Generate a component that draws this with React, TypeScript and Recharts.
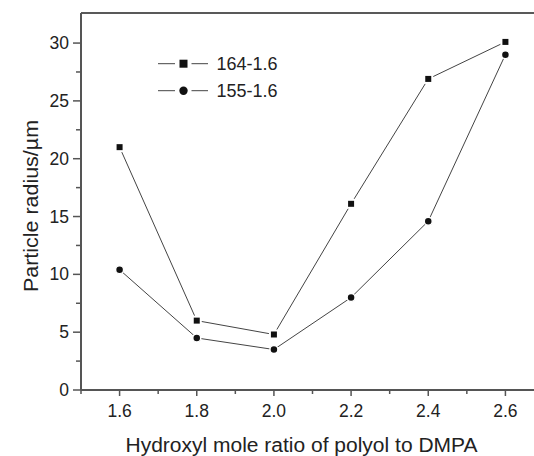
import React from "react";
import { Line, LineChart, ReferenceLine, XAxis, YAxis } from "recharts";

const ratios = [1.6, 1.8, 2.0, 2.2, 2.4, 2.6];
const radius164 = [21.0, 6.0, 4.8, 16.1, 26.9, 30.1];
const radius155 = [10.4, 4.5, 3.5, 8.0, 14.6, 29.0];
const xTicks = [1.5, 1.6, 1.7, 1.8, 1.9, 2.0, 2.1, 2.2, 2.3, 2.4, 2.5, 2.6, 2.7];
const yTicks = [0, 2.5, 5, 7.5, 10, 12.5, 15, 17.5, 20, 22.5, 25, 27.5, 30];
const seriesNames = ["164-1.6", "155-1.6"];

const data = ratios.map((r, i) => ({ ratio: r, a: radius164[i], b: radius155[i] }));

const FONT = "'Liberation Sans', Arial, Helvetica, sans-serif";
const AXIS = "#555";

function XTick(props: any) {
  const { x, y, payload } = props;
  const v = payload.value as number;
  const major = Math.round(v * 10) % 2 === 0;
  return (
    <g>
      <line x1={x} x2={x} y1={y} y2={y + (major ? 6 : 4)} stroke={AXIS} strokeWidth={1.5} />
      {major && (
        <text x={x} y={y + 27} textAnchor="middle" fontSize={17.5} fill="#222" fontFamily={FONT}>
          {v.toFixed(1)}
        </text>
      )}
    </g>
  );
}

function YTick(props: any) {
  const { x, y, payload } = props;
  const v = payload.value as number;
  const major = v % 5 === 0;
  return (
    <g>
      <line x1={x} x2={x - (major ? 8 : 5)} y1={y} y2={y} stroke={AXIS} strokeWidth={1.5} />
      {major && (
        <text x={x - 12} y={y + 6} textAnchor="end" fontSize={17.5} fill="#222" fontFamily={FONT}>
          {v}
        </text>
      )}
    </g>
  );
}

function SquareDot(props: any) {
  const { cx, cy } = props;
  if (cx == null || cy == null) return null;
  return <rect x={cx - 4} y={cy - 4} width={8} height={8} fill="#111" stroke="#fff" strokeWidth={2} />;
}

function CircleDot(props: any) {
  const { cx, cy } = props;
  if (cx == null || cy == null) return null;
  return <circle cx={cx} cy={cy} r={4} fill="#111" stroke="#fff" strokeWidth={1.5} />;
}

function LegendBox() {
  return (
    <svg width={150} height={50} style={{ position: "absolute", left: 150, top: 50 }}>
      {seriesNames.map((name, i) => {
        const cy = 13.7 + i * 27;
        return (
          <g key={name}>
            <line x1={8} x2={25} y1={cy} y2={cy} stroke="#444" strokeWidth={1} />
            <line x1={41.5} x2={58} y1={cy} y2={cy} stroke="#444" strokeWidth={1} />
            {i === 0 ? (
              <rect x={29.5} y={cy - 4} width={8} height={8} fill="#111" />
            ) : (
              <circle cx={33.5} cy={cy} r={4.2} fill="#111" />
            )}
            <text x={66.5} y={cy + 6.5} fontSize={18} fill="#222" fontFamily={FONT}>
              {name}
            </text>
          </g>
        );
      })}
    </svg>
  );
}

export default function App() {
  return (
    <div style={{ position: "absolute", left: 0, top: 0, width: 534, height: 456, overflow: "hidden", background: "#fff" }}>
      <LineChart width={544} height={456} data={data} margin={{ top: 13, right: 0, bottom: 0, left: 0 }}>
        <XAxis
          dataKey="ratio"
          type="number"
          domain={[1.5, 2.7]}
          ticks={xTicks}
          interval={0}
          tickSize={0}
          tickMargin={0}
          tickLine={false}
          tick={<XTick />}
          height={66}
          stroke={AXIS}
          strokeWidth={2}
          label={() => (
            <text x={301.5} y={452} textAnchor="middle" fontSize={20} fill="#222" fontFamily={FONT} textLength={352} lengthAdjust="spacingAndGlyphs">
              Hydroxyl mole ratio of polyol to DMPA
            </text>
          )}
        />
        <YAxis
          type="number"
          domain={[0, 32.6]}
          ticks={yTicks}
          interval={0}
          tickSize={0}
          tickMargin={0}
          tickLine={false}
          tick={<YTick />}
          width={81}
          stroke={AXIS}
          strokeWidth={2}
          label={() => (
            <text x={38} y={206} transform="rotate(-90 38 206)" textAnchor="middle" fontSize={21} fill="#222" fontFamily={FONT} textLength={172} lengthAdjust="spacingAndGlyphs">
              Particle radius/µm
            </text>
          )}
        />
        <ReferenceLine y={32.6} stroke="#222" strokeWidth={1.5} />
        <Line type="linear" dataKey="a" name={seriesNames[0]} stroke="#444" strokeWidth={1} dot={<SquareDot />} isAnimationActive={false} />
        <Line type="linear" dataKey="b" name={seriesNames[1]} stroke="#444" strokeWidth={1} dot={<CircleDot />} isAnimationActive={false} />
      </LineChart>
      <LegendBox />
    </div>
  );
}
